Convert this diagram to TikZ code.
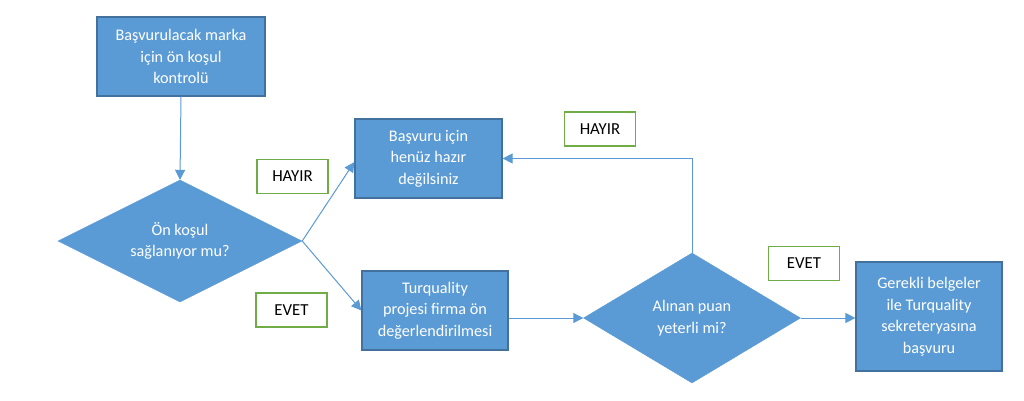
\documentclass[tikz,border=0pt]{standalone}
\usepackage{fontspec}
\setmainfont{Carlito}
\usetikzlibrary{shapes.geometric,arrows.meta,calc}
\definecolor{boxfill}{HTML}{5B9BD5}
\definecolor{boxline}{HTML}{41719C}
\definecolor{lblline}{HTML}{70AD47}
\begin{document}
\begin{tikzpicture}[x=1pt,y=-1pt,
  proc/.style={rectangle,draw=boxline,fill=boxfill,line width=1.2pt,text=white,
    align=center,font=\fontsize{16.2}{21.5}\selectfont,inner sep=0pt},
  decis/.style={diamond,fill=boxfill,draw=boxfill,text=white,align=center,
    font=\fontsize{16.2}{21.5}\selectfont,inner sep=0pt,aspect=2},
  lbl/.style={rectangle,draw=lblline,line width=1.7pt,fill=white,text=black,
    font=\fontsize{16.8}{18}\selectfont,inner sep=0pt,minimum width=71pt,minimum height=34pt},
  conn/.style={draw=boxfill,line width=1pt,-{Triangle[length=10pt,width=10pt]}}]
\useasboundingbox (0,0) rectangle (1024,401);
\fill[white] (0,0) rectangle (1024,401);
\node[proc,minimum width=168pt,minimum height=79pt] (b1) at (181,56.5)
  {Başvurulacak marka\\için ön koşul\\kontrolü};
\node[decis,minimum width=244pt,minimum height=122pt] (d1) at (180,241)
  {Ön koşul\\sağlanıyor mu?};
\node[proc,minimum width=147pt,minimum height=79pt] (b2) at (428.5,158.5)
  {Başvuru için\\henüz hazır\\değilsiniz};
\node[proc,minimum width=146pt,minimum height=79pt] (b3) at (435,310.5)
  {Turquality\\projesi firma ön\\değerlendirilmesi};
\node[decis,minimum width=217pt,minimum height=130pt] (d2) at (692,318)
  {Alınan puan\\yeterli mi?};
\node[proc,minimum width=146pt,minimum height=109pt] (b4) at (929,316.5)
  {Gerekli belgeler\\ile Turquality\\sekreteryasına\\başvuru};
\node[lbl] (l1) at (292.5,176.5) {HAYIR};
\node[lbl] (l2) at (291.5,310) {EVET};
\node[lbl] (l3) at (600,129) {HAYIR};
\node[lbl] (l4) at (804,263.5) {EVET};
\draw[conn] (b1.south) -- (d1.north);
\draw[conn] (d1.east) -- ($(b2.west)+(0,3.5)$);
\draw[conn] (d1.east) -- (b3.west);
\draw[conn] (d2.west -| b3.east) -- (d2.west);
\draw[conn] (d2.north) |- (b2.east);
\draw[conn] (d2.east) -- (d2.east -| b4.west);
\end{tikzpicture}
\end{document}
